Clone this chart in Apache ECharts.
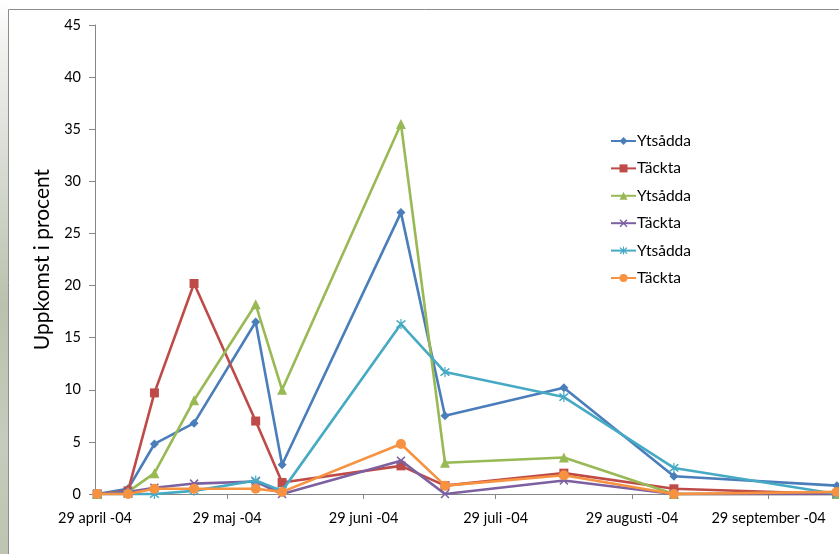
<!DOCTYPE html>
<html>
<head>
<meta charset="utf-8">
<script src="https://cdn.jsdelivr.net/npm/echarts@6/dist/echarts.min.js"></script>
<style>
  html, body { margin: 0; padding: 0; background: #ffffff; }
  #chart { width: 839px; height: 554px; }
</style>
</head>
<body>
<div id="chart"></div>
<script>
// Observation dates (2004)
const obsDates = ['2004-04-29', '2004-05-06', '2004-05-12', '2004-05-21', '2004-06-04', '2004-06-10',
                  '2004-07-07', '2004-07-17', '2004-08-13', '2004-09-07', '2004-10-14'];

// Emergence in percent, three pairs of surface-sown / covered treatments
const ytsadda1 = [0, 0.5, 4.8, 6.8, 16.5, 2.8, 27.0, 7.5, 10.2, 1.7, 0.8];
const tackta1  = [0, 0.3, 9.7, 20.2, 7.0, 1.1, 2.7, 0.8, 2.0, 0.5, 0.0];
const ytsadda2 = [0, 0.2, 2.0, 9.0, 18.2, 10.0, 35.5, 3.0, 3.5, 0.0, 0.0];
const tackta2  = [0, 0.2, 0.6, 1.0, 1.2, 0.0, 3.2, 0.0, 1.3, 0.0, 0.0];
const ytsadda3 = [0, 0.0, 0.0, 0.3, 1.3, 0.3, 16.3, 11.7, 9.3, 2.5, 0.0];
const tackta3  = [0, 0.0, 0.5, 0.5, 0.5, 0.2, 4.8, 0.8, 1.8, 0.0, 0.2];

const seriesNames = ['Ytsådda', 'Täckta', 'Ytsådda', 'Täckta', 'Ytsådda', 'Täckta'];

// Month ticks on the date axis
const tickDates  = ['2004-04-29', '2004-05-29', '2004-06-29', '2004-07-29', '2004-08-29', '2004-09-29'];
const tickLabels = ['29 april -04', '29 maj -04', '29 juni -04', '29 juli -04', '29 augusti -04', '29 september -04'];

// day number counted from 29 April 2004
const DAY_MS = 24 * 3600 * 1000;
const ORIGIN = Date.UTC(2004, 3, 29);
function dayNumber(s) {
  const p = s.split('-').map(Number);
  return Math.round((Date.UTC(p[0], p[1] - 1, p[2]) - ORIGIN) / DAY_MS);
}
// points sit in the middle of their day, between the day boundaries
const HALF_DAY = 0.5;

const palette = ['#4A7EBB', '#BE4B48', '#98B954', '#7D60A0', '#46AAC5', '#F69240'];
const crossPath = 'path://M0,1.2L1.2,0L5,3.8L8.8,0L10,1.2L6.2,5L10,8.8L8.8,10L5,6.2L1.2,10L0,8.8L3.8,5Z';
const starPath = 'path://M0,1.2L1.2,0L5,3.8L8.8,0L10,1.2L6.2,5L10,8.8L8.8,10L5,6.2L1.2,10L0,8.8L3.8,5Z' +
                 'M4.4,-1L5.6,-1L5.6,11L4.4,11Z';
const symbols = ['diamond', 'rect', 'triangle', crossPath, starPath, 'circle'];
const symbolSizes = [9, 9, 10, 9, 10, 10];
const valueSets = [ytsadda1, tackta1, ytsadda2, tackta2, ytsadda3, tackta3];

const series = valueSets.map((vals, i) => ({
  name: seriesNames[i] + '#' + (i + 1),
  type: 'line',
  data: obsDates.map((d, j) => [dayNumber(d) + HALF_DAY, vals[j]]),
  symbol: symbols[i],
  symbolSize: symbolSizes[i],
  showAllSymbol: true,
  lineStyle: { width: 2.6, color: palette[i] },
  itemStyle: { color: palette[i], borderWidth: 0 },
  emphasis: { disabled: true },
  clip: false,
  z: 2 + i
}));

const tickValues = tickDates.map(dayNumber);

const chart = echarts.init(document.getElementById('chart'), null, { renderer: 'canvas' });
chart.setOption({
  animation: false,
  backgroundColor: '#ffffff',
  textStyle: { fontFamily: 'Lato, "Open Sans", sans-serif' },
  graphic: [
    {
      type: 'rect',
      shape: { x: 0, y: 0, width: 8, height: 554 },
      style: {
        fill: {
          type: 'linear', x: 0, y: 0, x2: 0, y2: 1,
          colorStops: [
            { offset: 0, color: '#ffffff' },
            { offset: 0.08, color: '#f2f2f0' },
            { offset: 0.3, color: '#d8dbd3' },
            { offset: 0.55, color: '#b9c2ad' },
            { offset: 0.8, color: '#c6ccbd' },
            { offset: 1, color: '#bcc5b0' }
          ]
        }
      },
      silent: true,
      z: 0
    },
    {
      type: 'rect',
      shape: { x: 8.5, y: 9.5, width: 900, height: 600 },
      style: { fill: 'none', stroke: '#8c8c8c', lineWidth: 1 },
      silent: true,
      z: 0
    }
  ],
  legend: {
    orient: 'vertical',
    left: 605,
    top: 128,
    itemWidth: 25,
    itemHeight: 10,
    itemGap: 11.4,
    formatter: name => name.split('#')[0],
    textStyle: { fontSize: 15.5, color: '#000000', padding: [0, 0, 0, -4], fontFamily: 'Lato, sans-serif' },
    selectedMode: false
  },
  grid: { left: 95, right: -1, top: 25, bottom: 60, containLabel: false },
  xAxis: {
    type: 'value',
    min: 0,
    max: dayNumber('2004-10-15'),
    axisLine: { lineStyle: { color: '#868686', width: 1 } },
    axisTick: { show: true, length: 5, customValues: tickValues, lineStyle: { color: '#868686' } },
    axisLabel: {
      customValues: tickValues,
      formatter: v => {
        const k = tickValues.indexOf(v);
        return k >= 0 ? tickLabels[k] : '';
      },
      fontSize: 14.5,
      color: '#000000',
      margin: 17,
      hideOverlap: false
    },
    splitLine: { show: false }
  },
  yAxis: {
    type: 'value',
    min: 0,
    max: 45,
    interval: 5,
    name: 'Uppkomst i procent',
    nameLocation: 'middle',
    nameRotate: 90,
    nameGap: 42,
    nameTextStyle: { fontSize: 21, color: '#000000' },
    axisLine: { show: true, lineStyle: { color: '#868686', width: 1 } },
    axisTick: { show: true, length: 6, lineStyle: { color: '#868686' } },
    axisLabel: { fontSize: 14.5, color: '#000000', margin: 14 },
    splitLine: { show: false }
  },
  series: series
});
</script>
</body>
</html>
